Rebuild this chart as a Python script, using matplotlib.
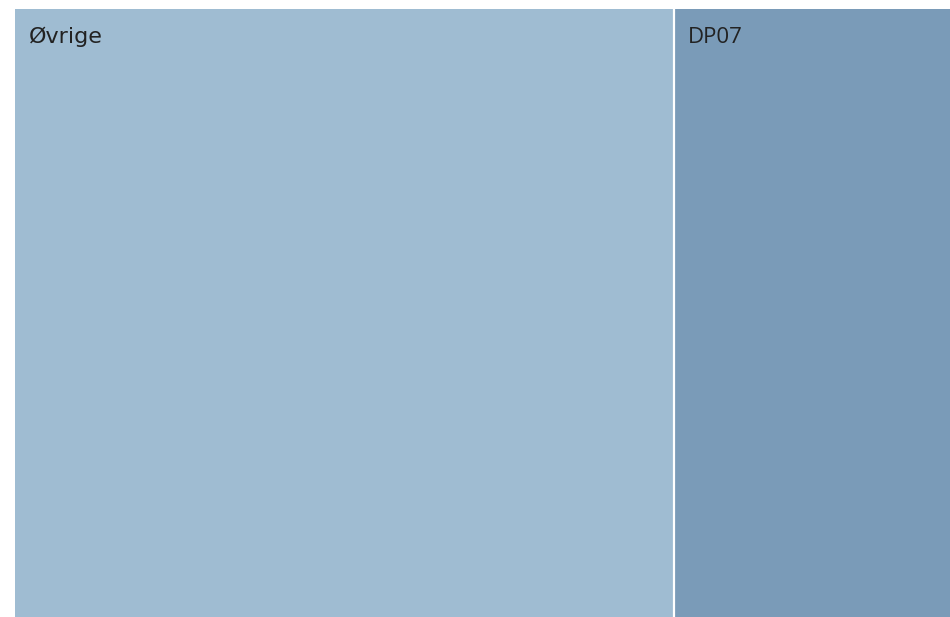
import matplotlib
matplotlib.use("Agg")
import matplotlib.pyplot as plt
import numpy as np

# treemap data (share of total)
labels = ["Øvrige", "DP07"]
values = [70.5, 29.5]
colors = ["#9fbcd2", "#7a9bb8"]
fonts = ["DejaVu Sans", "Open Sans"]

fig = plt.figure(figsize=(9.5, 6.17), dpi=100)
ax = fig.add_axes([15 / 950, 0, 935 / 950, 608 / 617])

total = sum(values)
lefts = np.concatenate([[0], np.cumsum(values)[:-1]])

ax.bar(lefts, [1] * len(values), width=values, bottom=0, align="edge",
       color=colors, linewidth=0)

# white dividers between the tiles
for x in np.cumsum(values)[:-1]:
    ax.axvline(x, color="white", linewidth=1.6)

for x0, lab, fam in zip(lefts, labels, fonts):
    ax.annotate(lab, xy=(x0, 1), xytext=(14, -18), textcoords="offset pixels",
                ha="left", va="top", fontsize=16, color="#222222", family=fam)

ax.set_xlim(0, total)
ax.set_ylim(0, 1)
ax.axis("off")

fig.savefig("out.png", dpi=100)
